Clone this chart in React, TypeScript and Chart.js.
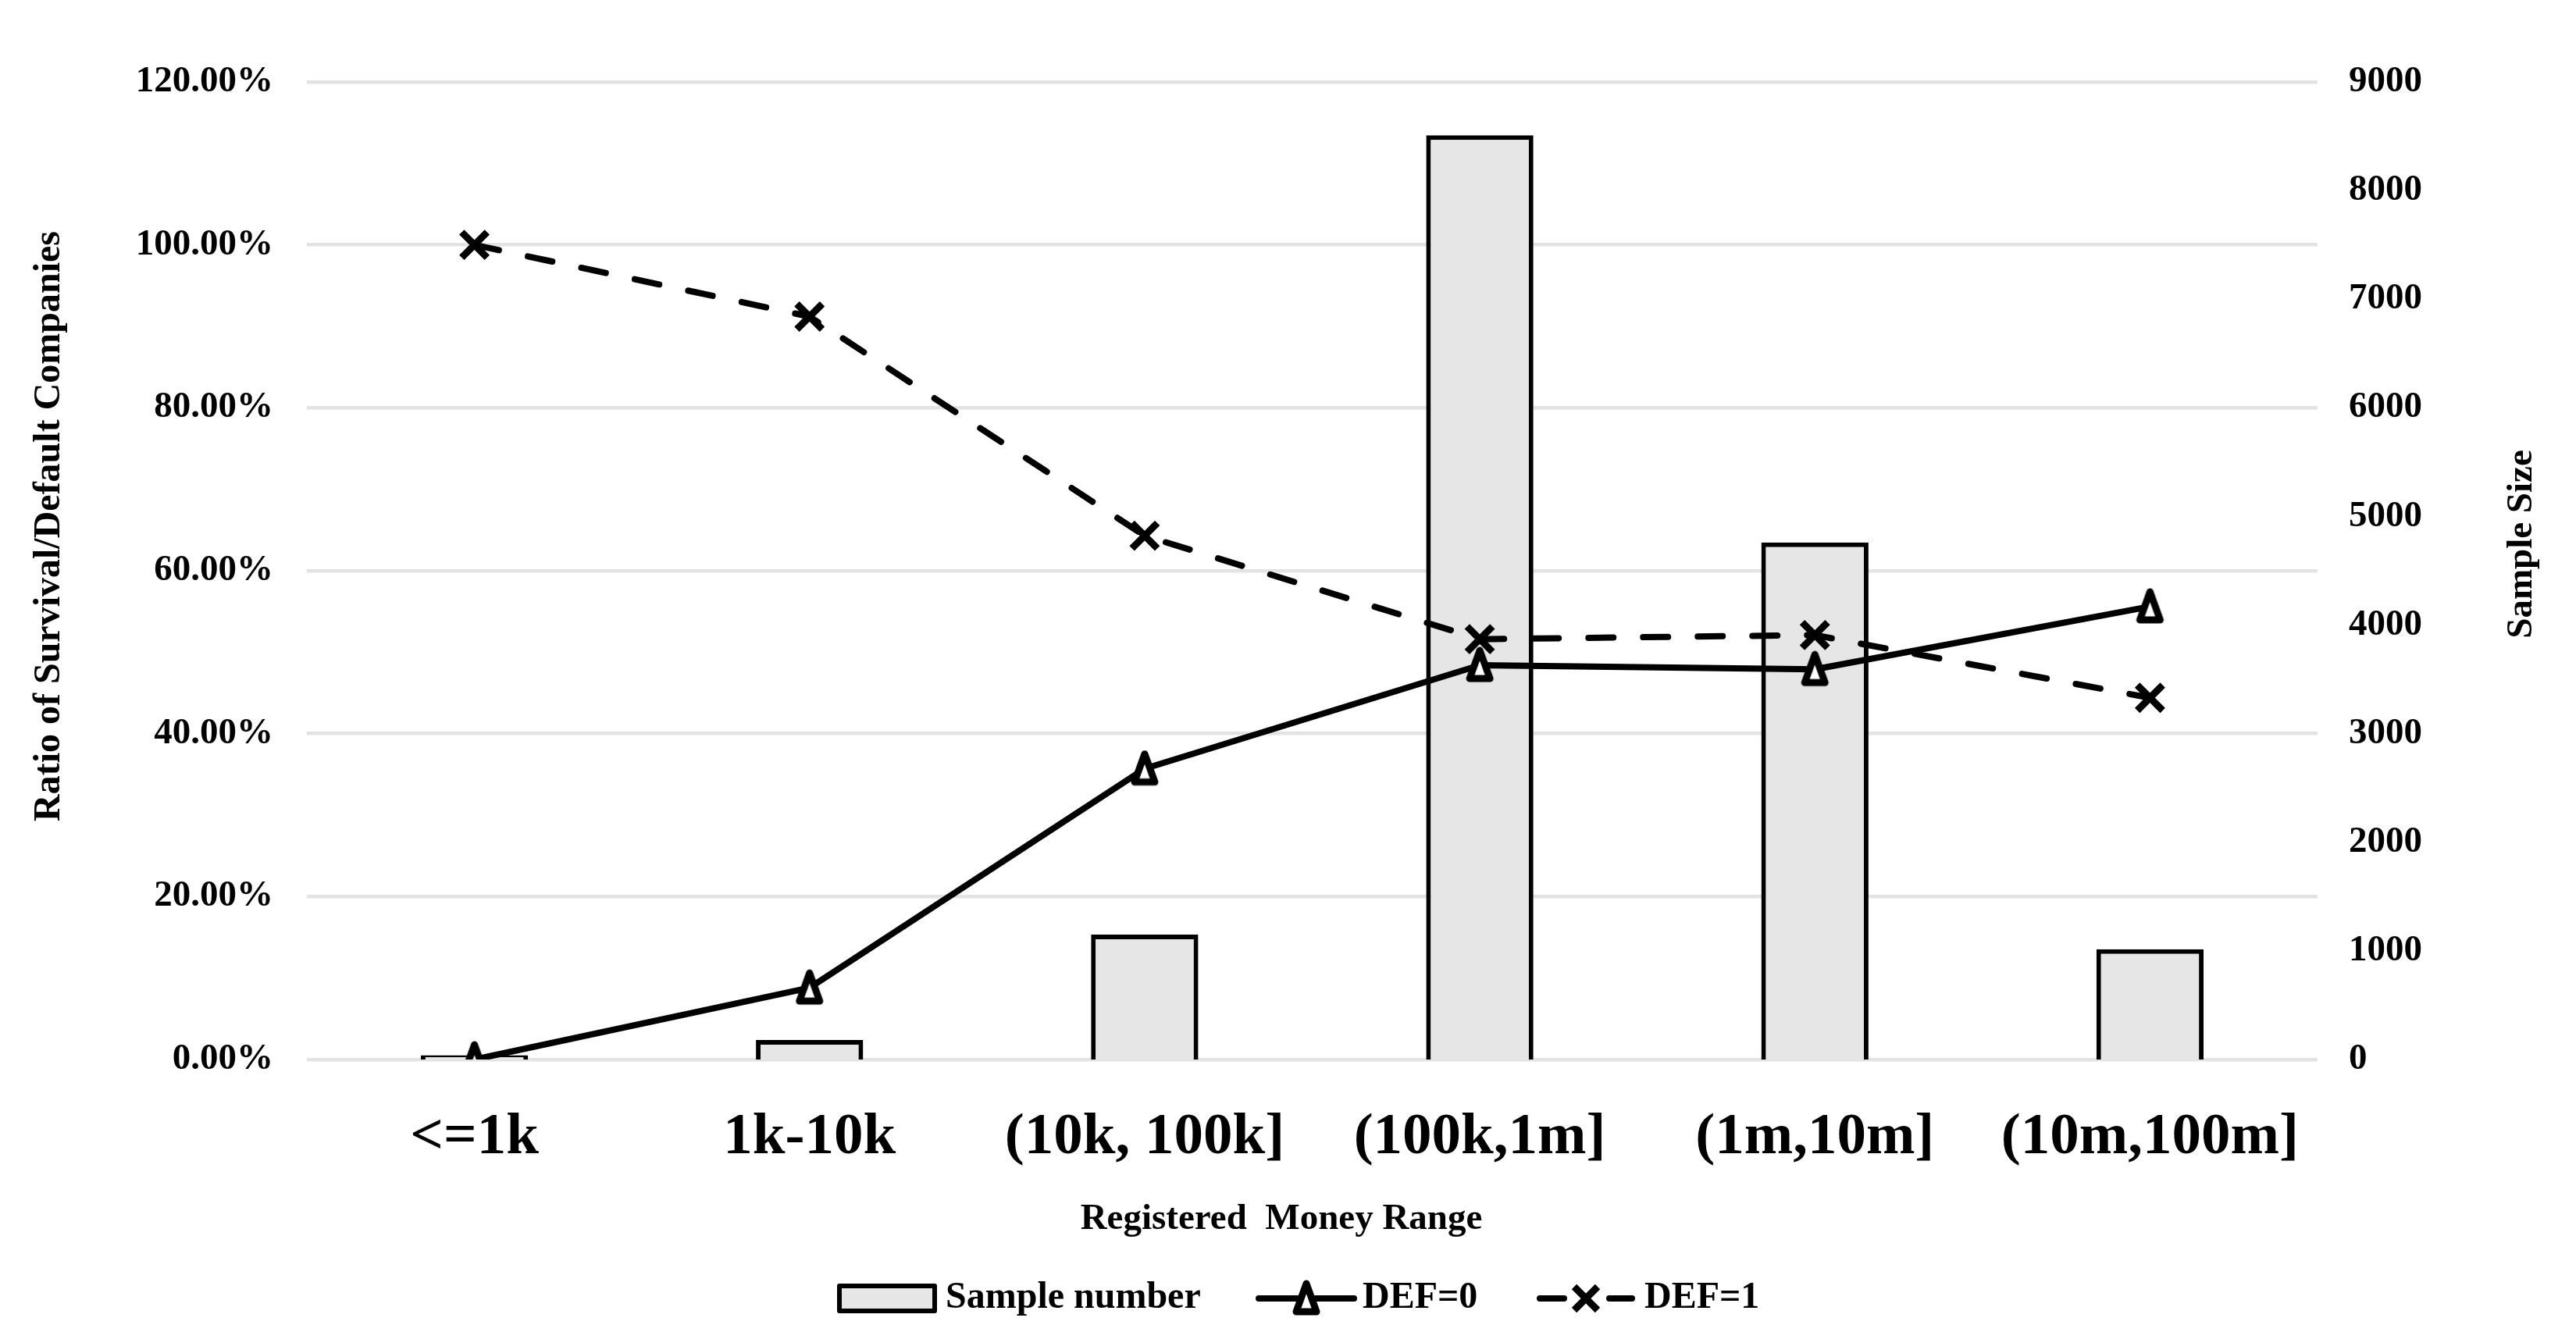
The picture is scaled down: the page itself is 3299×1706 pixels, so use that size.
import React, { useEffect, useRef } from "react";
import { Chart, registerables } from "chart.js";

Chart.register(...registerables);

const categories = ["<=1k", "1k-10k", "(10k, 100k]", "(100k,1m]", "(1m,10m]", "(10m,100m]"];
const sampleNumber = [40, 180, 1150, 8510, 4760, 1015];
const def0 = [0, 8.8, 35.7, 48.4, 47.9, 55.6];
const def1 = [100, 91.2, 64.3, 51.6, 52.1, 44.4];

const leftAxisMax = 120;
const leftAxisStep = 20;
const rightAxisMax = 9000;
const rightAxisStep = 1000;

const seriesNames = ["Sample number", "DEF=0", "DEF=1"];
const leftTitle = "Ratio of Survival/Default Companies";
const rightTitle = "Sample Size";
const xTitle = "Registered  Money Range";

const FONT = "'Liberation Serif', 'Times New Roman', serif";
const BAR_FILL = "#e6e6e6";
const GRID = "#e3e3e3";

function makeTriangle(): HTMLCanvasElement {
  const c = document.createElement("canvas");
  c.width = 44;
  c.height = 48;
  const g = c.getContext("2d")!;
  g.beginPath();
  g.moveTo(22, 5);
  g.lineTo(35, 41);
  g.lineTo(9, 41);
  g.closePath();
  g.fillStyle = "#ffffff";
  g.fill();
  g.lineWidth = 9;
  g.lineJoin = "round";
  g.strokeStyle = "#000000";
  g.stroke();
  return c;
}

export default function App() {
  const ref = useRef<HTMLCanvasElement | null>(null);

  useEffect(() => {
    document.body.style.margin = "0";
    document.body.style.overflow = "hidden";
    const canvas = ref.current!;
    const tri = makeTriangle();

    const decor = {
      id: "decor",
      afterDraw(chart: any) {
        const ctx = chart.ctx as CanvasRenderingContext2D;
        ctx.save();
        ctx.fillStyle = "#000";
        ctx.textAlign = "center";
        ctx.textBaseline = "middle";
        ctx.font = `bold 48px ${FONT}`;
        ctx.save();
        ctx.translate(64, 674);
        ctx.rotate(-Math.PI / 2);
        ctx.fillText(leftTitle, 0, 0);
        ctx.restore();
        ctx.font = `bold 47px ${FONT}`;
        ctx.save();
        ctx.translate(3230, 697);
        ctx.rotate(-Math.PI / 2);
        ctx.fillText(rightTitle, 0, 0);
        ctx.restore();
        ctx.fillText(xTitle, 1641, 1562);

        // legend
        const ly = 1663;
        ctx.font = `bold 48px ${FONT}`;
        ctx.textAlign = "left";
        ctx.fillStyle = BAR_FILL;
        ctx.fillRect(1075, ly - 16, 122, 32);
        ctx.lineWidth = 6;
        ctx.strokeStyle = "#000";
        ctx.lineJoin = "round";
        ctx.strokeRect(1075, ly - 16, 122, 32);
        ctx.fillStyle = "#000";
        ctx.fillText(seriesNames[0], 1211, ly);
        // DEF=0
        ctx.lineCap = "round";
        ctx.lineWidth = 8;
        ctx.beginPath();
        ctx.moveTo(1612, ly);
        ctx.lineTo(1734, ly);
        ctx.stroke();
        ctx.drawImage(tri, 1673 - tri.width / 2, ly - tri.height / 2);
        ctx.fillText(seriesNames[1], 1745, ly);
        // DEF=1
        ctx.beginPath();
        ctx.moveTo(1972, ly);
        ctx.lineTo(2003, ly);
        ctx.moveTo(2061, ly);
        ctx.lineTo(2090, ly);
        ctx.stroke();
        const mx = 2031;
        const d = 15;
        ctx.lineCap = "butt";
        ctx.lineWidth = 9;
        ctx.beginPath();
        ctx.moveTo(mx - d, ly - d);
        ctx.lineTo(mx + d, ly + d);
        ctx.moveTo(mx + d, ly - d);
        ctx.lineTo(mx - d, ly + d);
        ctx.stroke();
        ctx.fillText(seriesNames[2], 2106, ly);
        ctx.restore();
      },
    };

    const chart = new Chart(canvas, {
      type: "bar",
      data: {
        labels: categories,
        datasets: [
          {
            type: "line",
            label: seriesNames[1],
            data: def0,
            yAxisID: "y",
            borderColor: "#000",
            borderWidth: 8,
            borderCapStyle: "round",
            borderJoinStyle: "round",
            tension: 0,
            pointStyle: tri as any,
            pointRadius: 12,
            order: 1,
          } as any,
          {
            type: "line",
            label: seriesNames[2],
            data: def1,
            yAxisID: "y",
            borderColor: "#000",
            borderWidth: 8,
            borderDash: [32, 38],
            borderCapStyle: "round",
            borderJoinStyle: "round",
            tension: 0,
            pointStyle: "crossRot",
            pointRadius: 23,
            pointBorderWidth: 9,
            pointBorderColor: "#000",
            pointBackgroundColor: "#000",
            order: 2,
          } as any,
          {
            type: "bar",
            label: seriesNames[0],
            data: sampleNumber,
            yAxisID: "y1",
            backgroundColor: BAR_FILL,
            borderColor: "#000",
            borderWidth: 6,
            categoryPercentage: 1,
            barPercentage: 0.32,
            order: 3,
          } as any,
        ],
      },
      options: {
        responsive: false,
        animation: false,
        devicePixelRatio: 1,
        layout: { padding: { top: 105, left: 0, right: 0, bottom: 0 } },
        plugins: {
          legend: { display: false },
          tooltip: { enabled: false },
          title: { display: false },
        },
        scales: {
          x: {
            grid: { display: false, drawTicks: false },
            border: { display: false },
            ticks: {
              autoSkip: false,
              maxRotation: 0,
              minRotation: 0,
              padding: 56,
              color: "#000",
              font: { family: FONT, weight: "bold", size: 75 },
            },
            afterFit(scale: any) {
              scale.height = 349;
            },
          },
          y: {
            position: "left",
            min: 0,
            max: leftAxisMax,
            grid: { color: GRID, lineWidth: 4.5, drawTicks: false },
            border: { display: false },
            ticks: {
              stepSize: leftAxisStep,
              padding: 43,
              color: "#000",
              font: { family: FONT, weight: "bold", size: 47 },
              callback: (v: any) => Number(v).toFixed(2) + "%",
            },
            afterFit(scale: any) {
              scale.width = 393;
            },
          },
          y1: {
            position: "right",
            min: 0,
            max: rightAxisMax,
            grid: { display: false, drawTicks: false },
            border: { display: false },
            ticks: {
              stepSize: rightAxisStep,
              padding: 40,
              color: "#000",
              font: { family: FONT, weight: "bold", size: 47 },
              callback: (v: any) => String(v),
            },
            afterFit(scale: any) {
              scale.width = 331;
            },
          },
        },
      },
      plugins: [decor],
    });

    return () => chart.destroy();
  }, []);

  return (
    <div style={{ width: 3299, height: 1706, background: "#fff" }}>
      <canvas ref={ref} width={3299} height={1706} style={{ display: "block", width: 3299, height: 1706 }} />
    </div>
  );
}
